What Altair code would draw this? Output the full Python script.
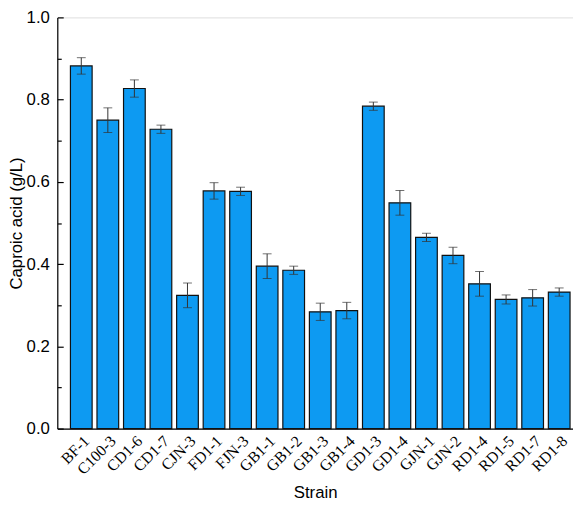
import altair as alt
import pandas as pd

strains = ["BF-1", "C100-3", "CD1-6", "CD1-7", "CJN-3", "FD1-1", "FJN-3", "GB1-1", "GB1-2",
           "GB1-3", "GB1-4", "GD1-3", "GD1-4", "GJN-1", "GJN-2", "RD1-4", "RD1-5", "RD1-7", "RD1-8"]
means = [0.882, 0.750, 0.827, 0.728, 0.324, 0.578, 0.577, 0.395, 0.385,
         0.284, 0.287, 0.784, 0.549, 0.465, 0.421, 0.352, 0.314, 0.318, 0.332]
errors = [0.020, 0.030, 0.021, 0.010, 0.030, 0.020, 0.010, 0.030, 0.010,
          0.021, 0.020, 0.010, 0.030, 0.010, 0.020, 0.030, 0.011, 0.020, 0.010]

df = pd.DataFrame({"strain": strains, "mean": means, "err": errors})
df["lo"] = df["mean"] - df["err"]
df["hi"] = df["mean"] + df["err"]

W, H = 523, 417
SANS = "Liberation Sans"
SERIF = "Liberation Serif"

xscale = alt.Scale(domain=strains, paddingInner=0.183, paddingOuter=0.303, align=0.816)
yscale = alt.Scale(domain=[0, 1], nice=False, zero=True)

major_vals = [0, 0.2, 0.4, 0.6, 0.8, 1.0]
all_vals = [round(i * 0.1, 1) for i in range(11)]

base = alt.Chart(df)

bars = base.mark_bar(color="#0D9AF2", stroke="#111111", strokeWidth=1.2).encode(
    x=alt.X("strain:N", scale=xscale, sort=strains,
            axis=alt.Axis(orient="bottom", title="Strain", ticks=False, domain=True,
                          domainColor="black", domainWidth=1.2,
                          labelAngle=-45, labelFont=SERIF, labelFontSize=16, labelColor="black",
                          labelPadding=4, titleFont=SANS, titleFontSize=17,
                          titleFontWeight="normal", titleColor="black", titlePadding=8)),
    y=alt.Y("mean:Q", scale=yscale,
            axis=alt.Axis(orient="left", title="Caproic acid (g/L)", values=major_vals,
                          format=".1f", ticks=False, domain=True, domainColor="black",
                          domainWidth=1.2, grid=False, labelFont=SANS, labelFontSize=17,
                          labelColor="black", labelPadding=8, titleFont=SANS,
                          titleFontSize=17, titleFontWeight="normal", titleColor="black",
                          titlePadding=1)),
)

rules = base.mark_rule(color="#333333", strokeWidth=1).encode(
    x=alt.X("strain:N", scale=xscale, sort=strains,
            axis=alt.Axis(orient="top", offset=-H, labels=False, domain=False, title=None,
                          ticks=True, tickSize=5, tickColor="black", tickWidth=1.2,
                          grid=False)),
    y=alt.Y("lo:Q", scale=yscale,
            axis=alt.Axis(orient="right", offset=-W, labels=False, domain=False, title=None,
                          values=all_vals, ticks=True, tickColor="black", tickWidth=1.2,
                          tickSize={"condition": {"test": "round(datum.value*10) % 2 === 0",
                                                  "value": 6}, "value": 4},
                          grid=False)),
    y2="hi:Q",
)

cap_lo = base.mark_tick(color="#333333", thickness=1, size=9).encode(
    x=alt.X("strain:N", scale=xscale, sort=strains, axis=None),
    y=alt.Y("lo:Q", scale=yscale, axis=None),
)
cap_hi = base.mark_tick(color="#333333", thickness=1, size=9).encode(
    x=alt.X("strain:N", scale=xscale, sort=strains, axis=None),
    y=alt.Y("hi:Q", scale=yscale, axis=None),
)

chart = alt.layer(bars, rules, cap_lo, cap_hi).resolve_axis(
    x="independent", y="independent"
).properties(
    width=W, height=H,
    autosize=alt.AutoSizeParams(type="none"),
    padding={"left": 50, "top": 6, "right": 0, "bottom": 75},
).configure_view(stroke=None).configure(background="white")

chart.save("out.html", embed_options={"renderer": "svg", "actions": False})
